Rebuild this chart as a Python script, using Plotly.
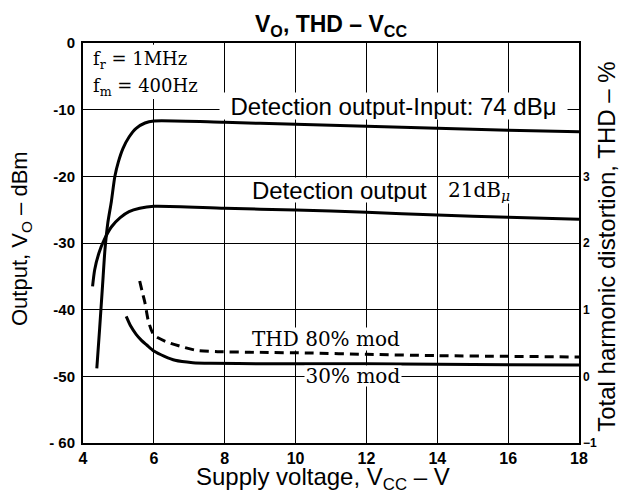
import plotly.graph_objects as go

# ---- data ----
# Detection output, Input 74 dBu  (Vcc [V], Vo [dBm])
hi_x = [4.39, 4.47, 4.55, 4.62, 4.7, 4.8, 4.9, 5.0, 5.13, 5.3, 5.5, 5.75, 6.0, 8, 10, 12, 14, 16, 18]
hi_y = [-48.8, -42.8, -36.5, -31.0, -27.0, -23.8, -20.0, -17.8, -15.8, -14.1, -12.8, -12.0, -11.7, -11.9, -12.2, -12.5, -12.8, -13.1, -13.3]

# Detection output, Input 21 dBu
lo_x = [4.27, 4.33, 4.45, 4.6, 4.8, 5.05, 5.3, 5.6, 6.0, 8, 10, 12, 14, 16, 18]
lo_y = [-36.5, -34.0, -31.5, -29.5, -27.6, -26.2, -25.3, -24.8, -24.5, -24.8, -25.05, -25.4, -25.8, -26.15, -26.45]

# THD, 80 % modulation  (Vcc [V], THD [%])
thd80_x = [5.6, 5.68, 5.75, 5.85, 6.0, 6.35, 6.75, 7.2, 7.8, 9, 10.4, 12, 14, 16, 18]
thd80_y = [1.43, 1.25, 1.1, 0.82, 0.62, 0.52, 0.45, 0.39, 0.37, 0.36, 0.35, 0.33, 0.31, 0.30, 0.29]

# THD, 30 % modulation
thd30_x = [5.22, 5.35, 5.5, 5.65, 5.8, 6.0, 6.3, 6.6, 7.1, 7.6, 9, 12, 14, 16, 18]
thd30_y = [0.9, 0.75, 0.63, 0.54, 0.47, 0.38, 0.3, 0.24, 0.205, 0.195, 0.19, 0.19, 0.18, 0.175, 0.17]

x_ticks = [4, 6, 8, 10, 12, 14, 16, 18]
y_ticks = [-60, -50, -40, -30, -20, -10, 0]
y_ticktext = ["- 60", "-50", "-40", "-30", "-20", "-10", "0"]
y2_ticks = [-1, 0, 1, 2, 3]

SANS = "Liberation Sans, Arial, sans-serif"
SERIF = "DejaVu Serif, serif"

fig = go.Figure()
line_kw = dict(color="black", width=3, shape="spline", smoothing=0.7)
fig.add_trace(go.Scatter(x=hi_x, y=hi_y, mode="lines", line=line_kw, showlegend=False))
fig.add_trace(go.Scatter(x=lo_x, y=lo_y, mode="lines", line=line_kw, showlegend=False))
fig.add_trace(go.Scatter(x=thd80_x, y=thd80_y, mode="lines", yaxis="y2",
                         line=dict(color="black", width=3, dash="9px,6px", shape="spline", smoothing=0.7),
                         showlegend=False))
fig.add_trace(go.Scatter(x=thd30_x, y=thd30_y, mode="lines", yaxis="y2",
                         line=line_kw, showlegend=False))

fig.update_layout(
    width=619, height=493,
    margin=dict(l=83, r=40, t=43, b=50),
    paper_bgcolor="white", plot_bgcolor="white",
    xaxis=dict(range=[4, 18], tickvals=x_ticks, showgrid=True, gridcolor="black", gridwidth=1.3,
               showline=True, linecolor="black", linewidth=2, mirror=True, ticks="",
               ticklabelstandoff=0, zeroline=False, automargin=False,
               tickfont=dict(family=SANS, size=16, color="black", weight="bold")),
    yaxis=dict(range=[-60, 0], tickvals=y_ticks, ticktext=y_ticktext, showgrid=True,
               gridcolor="black", gridwidth=1.3, showline=True, linecolor="black", linewidth=2,
               mirror=True, ticks="", ticklabelstandoff=3, zeroline=False, automargin=False,
               tickfont=dict(family=SANS, size=15, color="black", weight="bold")),
    yaxis2=dict(range=[-1, 5], tickvals=y2_ticks, overlaying="y", side="right", showgrid=False,
                showline=False, ticks="", ticklabelstandoff=3, zeroline=False, automargin=False,
                tickfont=dict(family=SANS, size=12, color="black", weight="bold")),
)

# white box behind the frequency note
fig.add_shape(type="rect", xref="x", yref="y", x0=4.05, x1=7.6, y0=-8.4, y1=-0.25,
              fillcolor="white", line=dict(width=0), layer="above")

ann = []
# title and axis titles
ann.append(dict(text="<b>V<sub>O</sub>, THD – V<sub>CC</sub></b>", xref="paper", yref="paper",
                x=0.5, y=1.043, xanchor="center", yanchor="middle", showarrow=False,
                font=dict(family=SANS, size=23, color="black")))
ann.append(dict(text="Supply voltage, V<sub>CC</sub> – V", xref="paper", yref="paper",
                x=0.484, y=-0.088, xanchor="center", yanchor="middle", showarrow=False,
                font=dict(family=SANS, size=24, color="black")))
ann.append(dict(text="Output, V<sub>O</sub> – dBm", xref="paper", yref="paper",
                x=-0.125, y=0.51, xanchor="center", yanchor="middle", textangle=-90, showarrow=False,
                font=dict(family=SANS, size=22, color="black")))
ann.append(dict(text="Total harmonic distortion, THD – %", xref="paper", yref="paper",
                x=1.054, y=0.49, xanchor="center", yanchor="middle", textangle=-90, showarrow=False,
                font=dict(family=SANS, size=24, color="black")))
# frequency note
ann.append(dict(text="f<sub>r</sub> = 1MHz", xref="x", yref="y", x=4.22, y=-2.5,
                xanchor="left", yanchor="middle", showarrow=False,
                font=dict(family=SERIF, size=18, color="black")))
ann.append(dict(text="f<sub>m</sub> = 400Hz", xref="x", yref="y", x=4.22, y=-6.6,
                xanchor="left", yanchor="middle", showarrow=False,
                font=dict(family=SERIF, size=18, color="black")))
# curve labels
ann.append(dict(text="Detection output-Input: 74 dBμ", xref="x", yref="y", x=12.76, y=-9.45,
                xanchor="center", yanchor="middle", showarrow=False, bgcolor="white",
                width=347, height=26, borderpad=0,
                font=dict(family=SANS, size=24, color="black")))
ann.append(dict(text="Detection output", xref="x", yref="y", x=11.25, y=-22.05,
                xanchor="center", yanchor="middle", showarrow=False, bgcolor="white",
                width=185, height=24, borderpad=0,
                font=dict(family=SANS, size=24, color="black")))
ann.append(dict(text="21dB<sub><i>μ</i></sub>", xref="x", yref="y", x=15.18, y=-22.2,
                xanchor="center", yanchor="middle", showarrow=False, bgcolor="white",
                width=76, height=24, borderpad=0,
                font=dict(family=SERIF, size=20, color="black")))
ann.append(dict(text="THD 80% mod", xref="x", yref="y2", x=10.87, y=0.56,
                xanchor="center", yanchor="middle", showarrow=False, bgcolor="white",
                width=150, height=22, borderpad=0,
                font=dict(family=SERIF, size=20, color="black")))
ann.append(dict(text="30% mod", xref="x", yref="y2", x=11.62, y=0.0,
                xanchor="center", yanchor="middle", showarrow=False, bgcolor="white",
                width=96, height=20, borderpad=0,
                font=dict(family=SERIF, size=20, color="black")))
fig.update_layout(annotations=ann)

fig.write_html("out.html", config={"displayModeBar": False},
               post_script="document.body.style.margin='0';document.body.style.padding='0';")
